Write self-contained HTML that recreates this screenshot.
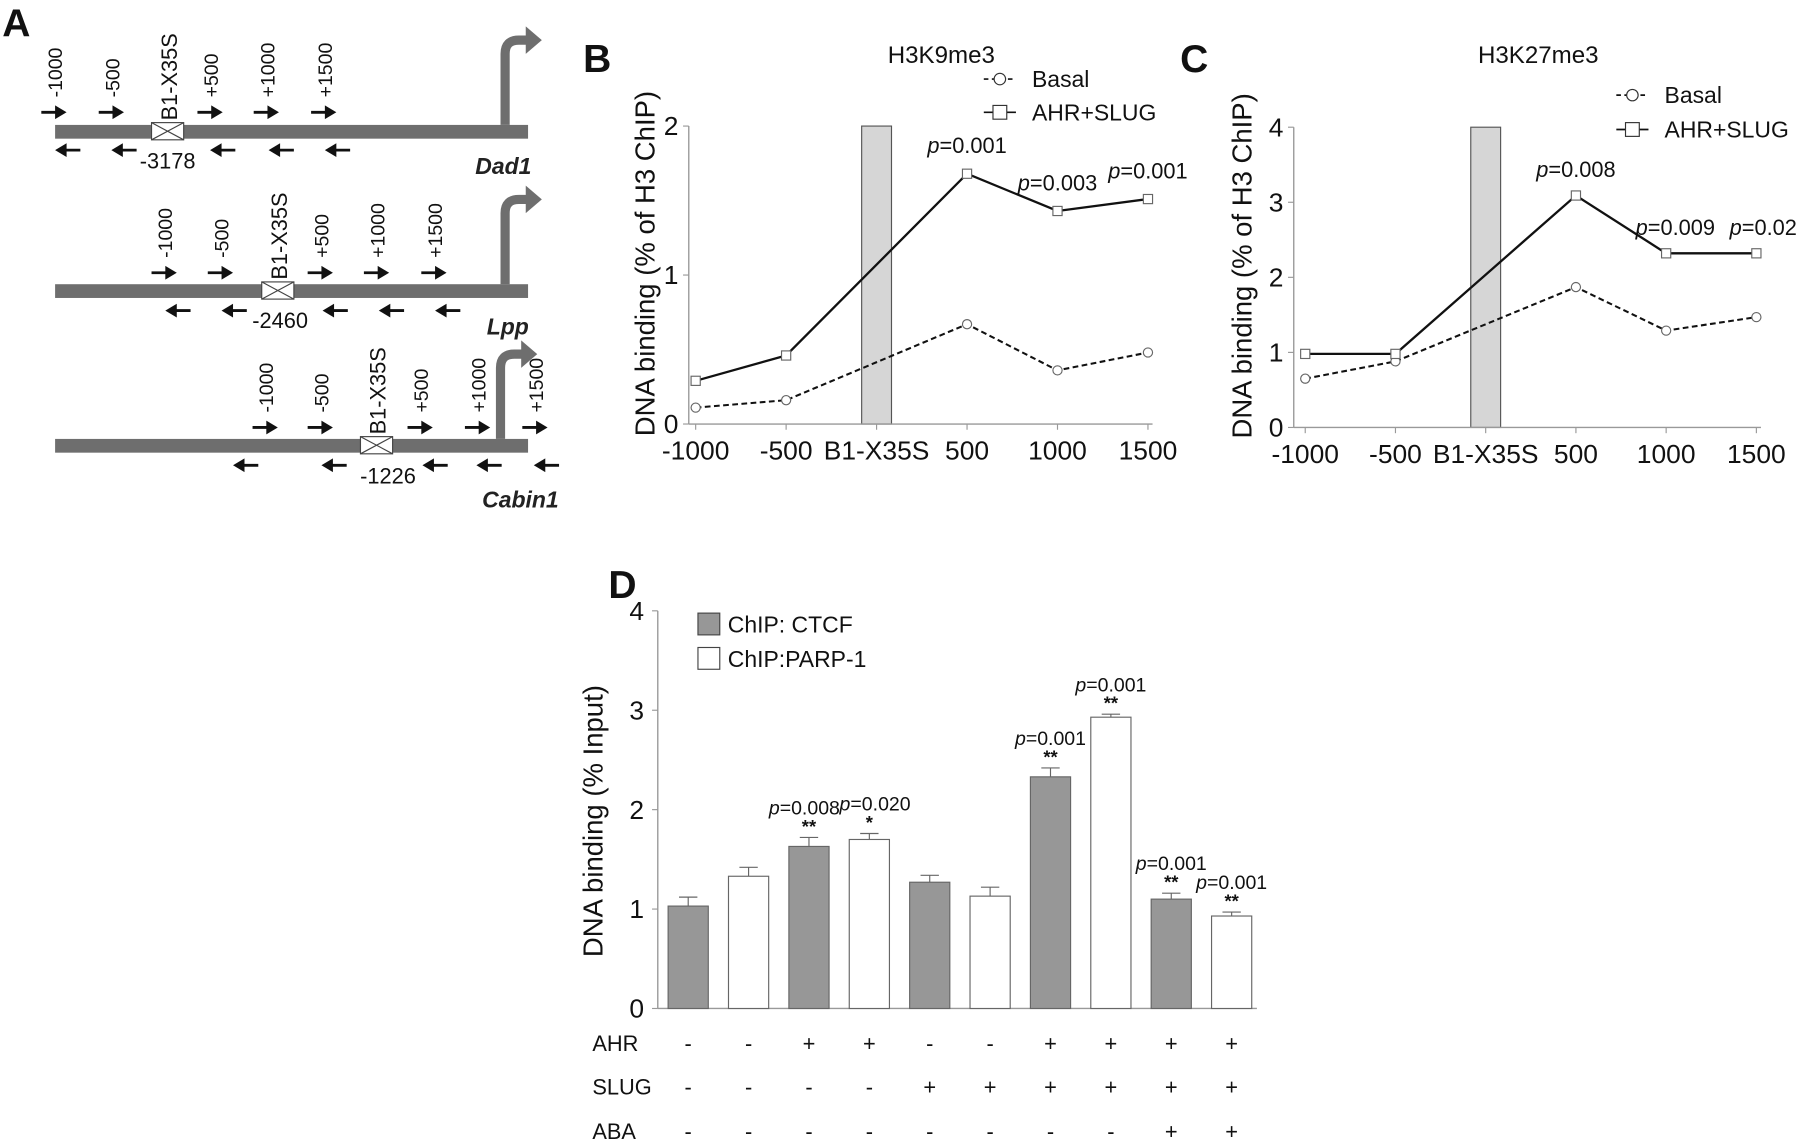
<!DOCTYPE html>
<html><head><meta charset="utf-8"><style>
html,body{margin:0;padding:0;background:#fff;}
svg{display:block;font-family:"Liberation Sans",Arial,sans-serif;}
</style></head><body>
<svg id="fig" width="1800" height="1146" viewBox="0 0 1568 1000" preserveAspectRatio="none" xmlns="http://www.w3.org/2000/svg">
<rect width="1568" height="1000" fill="#fff"/>
<g font-weight="bold" font-size="34" fill="#111">
<text x="2" y="32">A</text>
<text x="508" y="63">B</text>
<text x="1028" y="63">C</text>
<text x="530" y="522">D</text>
</g>
<g id="pa"></g>
<g id="pb"></g>
<g id="pc"></g>
<g id="pd"></g>
</svg>
<script>
// ---- Panel B/C data ----
const lineCats = ["-1000","-500","B1-X35S","500","1000","1500"];
const bBasal = [0.11,0.16,null,0.67,0.36,0.48];
const bAhr = [0.29,0.46,null,1.68,1.43,1.51];
const bTicks = [0,1,2];
const bP = [null,null,null,"0.001","0.003","0.001"];
const cBasal = [0.65,0.88,null,1.87,1.29,1.47];
const cAhr = [0.98,0.98,null,3.09,2.32,2.32];
const cTicks = [0,1,2,3,4];
const cP = [null,null,null,"0.008","0.009","0.02"];
// ---- Panel D data ----
const dCats = ["1","2","3","4","5","6","7","8","9","10"];
const dValues = [1.03,1.33,1.63,1.70,1.27,1.13,2.33,2.93,1.10,0.93];
const dErrors = [0.09,0.09,0.09,0.06,0.07,0.09,0.09,0.03,0.06,0.04];
const dSeries = ["CTCF","PARP","CTCF","PARP","CTCF","PARP","CTCF","PARP","CTCF","PARP"];
const dTicks = [0,1,2,3,4];
const dP = [null,null,"0.008","0.020",null,null,"0.001","0.001","0.001","0.001"];
const dStars = ["","","**","*","","","**","**","**","**"];
const dAHR = ["-","-","+","+","-","-","+","+","+","+"];
const dSLUG = ["-","-","-","-","+","+","+","+","+","+"];
const dABA = ["-","-","-","-","-","-","-","-","+","+"];

const NS="http://www.w3.org/2000/svg";
function mk(parent,tag,attrs,text){const e=document.createElementNS(NS,tag);for(const k in attrs)e.setAttribute(k,attrs[k]);if(text!==undefined)e.textContent=text;parent.appendChild(e);return e;}
function ptext(parent,x,y,p,size){const t=mk(parent,'text',{x:x,y:y,'font-size':size,'text-anchor':'middle',fill:'#111'});mk(t,'tspan',{'font-style':'italic'},'p');mk(t,'tspan',{},'='+p);return t;}

// ---- Panel A ----
const pa=document.getElementById('pa');
const genes=[
 {name:"Dad1",by:109,fy:98,ry:131,fwd:[36,86,172,221,271],rev:[48,97,183,234,283],box:132,num:"-3178",nx:146,ny:147,gx:414,gy:152,px:440},
 {name:"Lpp",by:248,fy:238,ry:271,fwd:[132,181,268,317,367],rev:[144,193,281,330,379],box:228,num:"-2460",nx:244,ny:286,gx:424,gy:292,px:440},
 {name:"Cabin1",by:383,fy:373,ry:406,fwd:[220,268,355,405,455],rev:[203,280,368,415,465],box:314,num:"-1226",nx:338,ny:422,gx:420,gy:443,px:436}
];
const aLabels=["-1000","-500","+500","+1000","+1500"];
genes.forEach(g=>{
 const gg=mk(pa,'g',{});
 
 
 mk(gg,'rect',{x:48,y:g.by,width:412,height:12,fill:'#6e6e6e'});
 mk(gg,'path',{d:`M${g.px} ${g.by} L${g.px} ${g.by-62} Q${g.px} ${g.by-74} ${g.px+12} ${g.by-74} L${g.px+20} ${g.by-74}`,stroke:'#6e6e6e','stroke-width':8,fill:'none'});
 mk(gg,'polygon',{points:`${g.px+18},${g.by-86} ${g.px+32},${g.by-74} ${g.px+18},${g.by-62}`,fill:'#6e6e6e'});
 mk(gg,'rect',{x:g.box,y:g.by-2,width:28,height:15,fill:'#fff',stroke:'#444','stroke-width':1});
 mk(gg,'path',{d:`M${g.box} ${g.by-2} L${g.box+28} ${g.by+13} M${g.box+28} ${g.by-2} L${g.box} ${g.by+13}`,stroke:'#444','stroke-width':1});
 mk(gg,'text',{x:0,y:0,'font-size':19,transform:`translate(${g.box+22},${g.by-4}) rotate(-90)`,fill:'#111'},'B1-X35S');
 g.fwd.forEach((x,i)=>{
  mk(gg,'path',{d:`M${x} ${g.fy} L${x+14} ${g.fy}`,stroke:'#111','stroke-width':2.5});
  mk(gg,'polygon',{points:`${x+12},${g.fy-6} ${x+22},${g.fy} ${x+12},${g.fy+6}`,fill:'#111'});
  mk(gg,'text',{x:0,y:0,'font-size':17,transform:`translate(${x+18},${g.fy-13}) rotate(-90)`,fill:'#111'},aLabels[i]);
 });
 g.rev.forEach(x=>{
  mk(gg,'path',{d:`M${x+8} ${g.ry} L${x+22} ${g.ry}`,stroke:'#111','stroke-width':2.5});
  mk(gg,'polygon',{points:`${x+10},${g.ry-6} ${x},${g.ry} ${x+10},${g.ry+6}`,fill:'#111'});
 });
 mk(gg,'text',{x:g.nx,y:g.ny,'font-size':19,'text-anchor':'middle',fill:'#111'},g.num);
 mk(gg,'text',{x:g.gx,y:g.gy,'font-size':20,'font-style':'italic','font-weight':'bold',fill:'#222'},g.name);
});

// ---- Line charts ----
function lineChart(id,o){
 const p=document.getElementById(id);
 const yS=v=>o.y0-(v-o.vmin)*(o.y0-o.ytop)/(o.vmax-o.vmin);
 const xS=i=>o.xs0+i*o.dx;
 const gr=mk(p,'rect',{x:xS(2)-13,y:o.ytop,width:26,height:o.y0-o.ytop,fill:'#d6d6d6',stroke:'#555','stroke-width':1});
 
 
 mk(p,'line',{x1:o.ax,y1:o.ytop,x2:o.ax,y2:o.y0,stroke:'#999','stroke-width':1.2});
 mk(p,'line',{x1:o.ax,y1:o.y0,x2:xS(5)+4,y2:o.y0,stroke:'#999','stroke-width':1.2});
 o.ticks.forEach(t=>{
  mk(p,'line',{x1:o.ax-5,y1:yS(t),x2:o.ax,y2:yS(t),stroke:'#999'});
  const tl=mk(p,'text',{x:o.ax-9,y:yS(t)+8,'font-size':23,'text-anchor':'end',fill:'#111'},String(t));
  
  
 });
 lineCats.forEach((c,i)=>{
  mk(p,'line',{x1:xS(i),y1:o.y0,x2:xS(i),y2:o.y0+5,stroke:'#999'});
  const tl=mk(p,'text',{x:xS(i),y:o.y0+31,'font-size':23,'text-anchor':'middle',fill:'#111'},c);
  
  
 });
 const yt=mk(p,'text',{x:0,y:0,'font-size':24,'text-anchor':'middle',transform:`translate(${o.ylx},${(o.y0+o.ytop)/2-10}) rotate(-90)`,fill:'#111'},'DNA binding (% of H3 ChIP)');
 
 
 const tt=mk(p,'text',{x:o.tx,y:55,'font-size':21,'text-anchor':'middle',fill:'#111'},o.title);
 
 
 function series(vals,dash,name,marker){
  const pts=[];vals.forEach((v,i)=>{if(v!==null)pts.push([xS(i),yS(v)]);});
  const pl=mk(p,'polyline',{points:pts.map(q=>q.join(',')).join(' '),fill:'none',stroke:'#111','stroke-width':dash?1.8:2,'stroke-dasharray':dash?'5,3':'none'});
  
  
  pts.forEach(q=>{
   let m;
   if(marker==='c') m=mk(p,'circle',{cx:q[0],cy:q[1],r:4,fill:'#fff',stroke:'#666','stroke-width':1});
   else m=mk(p,'rect',{x:q[0]-4,y:q[1]-4,width:8,height:8,fill:'#fff',stroke:'#666','stroke-width':1});
   
   
  });
 }
 series(o.basal,true,'basal','c');
 series(o.ahr,false,'ahr-slug','s');
 o.p.forEach((pv,i)=>{if(pv){const t=ptext(p,xS(i)+o.pdx[i],yS(o.ahr[i])-o.poff,pv,19);
  
  }});
 const lg=mk(p,'g',{});
 
 
 mk(lg,'line',{x1:o.lx,y1:o.ly1,x2:o.lx+28,y2:o.ly1,stroke:'#111','stroke-width':1.5,'stroke-dasharray':'4,3'});
 mk(lg,'circle',{cx:o.lx+14,cy:o.ly1,r:5,fill:'#fff',stroke:'#333'});
 mk(lg,'text',{x:o.lx+42,y:o.ly1+7,'font-size':20,fill:'#111'},'Basal');
 mk(lg,'line',{x1:o.lx,y1:o.ly2,x2:o.lx+28,y2:o.ly2,stroke:'#111','stroke-width':1.5});
 mk(lg,'rect',{x:o.lx+8,y:o.ly2-6,width:12,height:12,fill:'#fff',stroke:'#333'});
 mk(lg,'text',{x:o.lx+42,y:o.ly2+7,'font-size':20,fill:'#111'},'AHR+SLUG');
}
lineChart('pb',{ax:600,y0:370,ytop:110,vmin:0,vmax:2,ticks:bTicks,xs0:606,dx:78.8,basal:bBasal,ahr:bAhr,p:bP,pdx:[0,0,0,0,0,0],poff:18,title:'H3K9me3',tx:820,ylx:570,lx:857,ly1:69,ly2:98});
lineChart('pc',{ax:1127,y0:373,ytop:111,vmin:0,vmax:4,ticks:cTicks,xs0:1137,dx:78.6,basal:cBasal,ahr:cAhr,p:cP,pdx:[0,0,0,0,8,6],poff:16,title:'H3K27me3',tx:1340,ylx:1090,lx:1408,ly1:83,ly2:113});

// ---- Panel D ----
(function(){
 const p=document.getElementById('pd');
 const y0=880,ytop=533,ax=573;
 const yS=v=>y0-v*(y0-ytop)/4;
 const xS=i=>599.5+i*52.6;
 const bw=35;
 const pShift=[0,0,-4,5,0,0,0,0,0,0];
 mk(p,'line',{x1:ax,y1:ytop,x2:ax,y2:y0,stroke:'#999','stroke-width':1.2});
 mk(p,'line',{x1:ax,y1:y0,x2:xS(9)+22,y2:y0,stroke:'#999','stroke-width':1.2});
 dTicks.forEach(t=>{
  mk(p,'line',{x1:ax-5,y1:yS(t),x2:ax,y2:yS(t),stroke:'#999'});
  const tl=mk(p,'text',{x:ax-12,y:yS(t)+8,'font-size':23,'text-anchor':'end',fill:'#111'},String(t));
  
  
 });
 const yt=mk(p,'text',{x:0,y:0,'font-size':24,'text-anchor':'middle',transform:`translate(${525},${(y0+ytop)/2+10}) rotate(-90)`,fill:'#111'},'DNA binding (% Input)');
 
 
 dValues.forEach((v,i)=>{
  const cx=xS(i);
  const e=dErrors[i];
  mk(p,'line',{x1:cx,y1:yS(v),x2:cx,y2:yS(v+e),stroke:'#666'});
  mk(p,'line',{x1:cx-8,y1:yS(v+e),x2:cx+8,y2:yS(v+e),stroke:'#666'});
  const b=mk(p,'rect',{x:cx-bw/2,y:yS(v),width:bw,height:y0-yS(v),fill:dSeries[i]==='CTCF'?'#979797':'#fff',stroke:'#666','stroke-width':1});
  
  
  if(dStars[i]){const s=mk(p,'text',{x:cx,y:yS(v+e)-4,'font-size':16,'font-weight':'bold','text-anchor':'middle',fill:'#111'},dStars[i]);
   
   }
  if(dP[i]){const t=ptext(p,cx+pShift[i],yS(v+e)-20,dP[i],17);
   
   }
  [[dAHR,917],[dSLUG,955],[dABA,994]].forEach(r=>{
   const s=mk(p,'text',{x:cx,y:r[1],'font-size':19,'text-anchor':'middle',fill:'#111'},r[0][i]);
   
   
  });
 });
 [["AHR",917],["SLUG",955],["ABA",994]].forEach(r=>{
  const s=mk(p,'text',{x:516,y:r[1],'font-size':19,fill:'#111'},r[0]);
  
  
 });
 const lg=mk(p,'g',{});
 
 
 mk(lg,'rect',{x:608,y:535,width:19,height:19,fill:'#979797',stroke:'#444'});
 mk(lg,'text',{x:634,y:552,'font-size':20,fill:'#111'},'ChIP: CTCF');
 mk(lg,'rect',{x:608,y:565,width:19,height:19,fill:'#fff',stroke:'#444'});
 mk(lg,'text',{x:634,y:582,'font-size':20,fill:'#111'},'ChIP:PARP-1');
})();
</script>
</body></html>
